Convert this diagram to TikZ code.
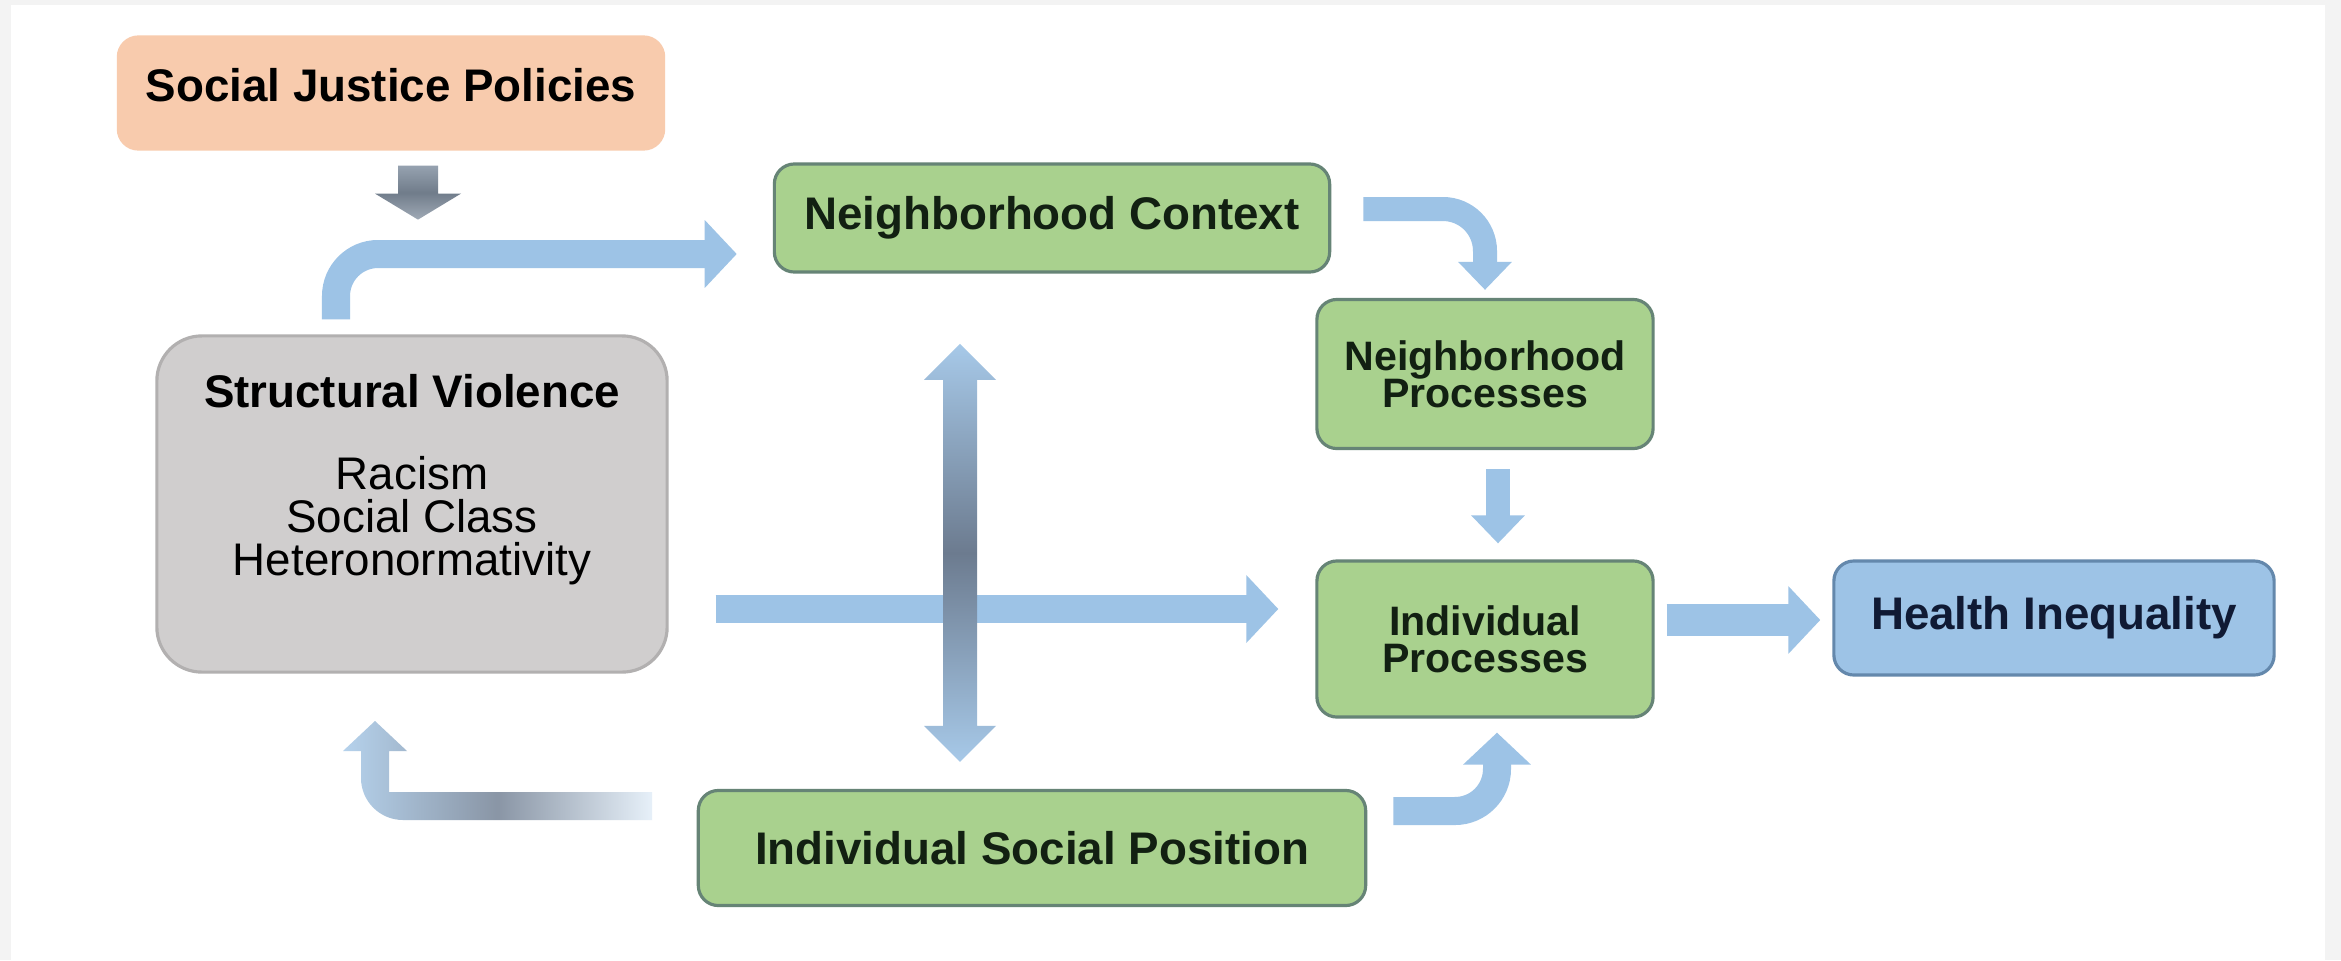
\documentclass[tikz,border=0pt]{standalone}
\usepackage{fontspec}
\setmainfont{Liberation Sans}
\usepackage{xcolor}
\usetikzlibrary{arrows.meta,calc,positioning}
\definecolor{arrblue}{RGB}{157,195,230}
\definecolor{slate}{RGB}{108,123,143}
\definecolor{pagegray}{RGB}{243,243,243}

\begin{document}
\begin{tikzpicture}[x=0.01cm,y=-0.01cm,
    box/.style={rounded corners=0.2cm, line width=0.9pt, align=center,
        font=\fontsize{13}{15}\selectfont\bfseries},
    greenbox/.style={box, fill=boxgreen, draw=edgegreen, text=textgreen},
    smallbox/.style={greenbox, minimum width=3.36cm,
        font=\fontsize{11.7}{10.6}\selectfont\bfseries},
    barrow/.style={draw=arrblue, line width=0.28cm, rounded corners=0.42cm,
        -{Triangle[width=0.66cm,length=0.32cm]}},
    sarrow/.style={barrow, line width=0.24cm,
        -{Triangle[width=0.52cm,length=0.28cm]}}]
    % Define colors for the boxes
    \definecolor{peach}{RGB}{248,203,173}
    \definecolor{boxgreen}{RGB}{169,209,142}
    \definecolor{edgegreen}{RGB}{102,132,118}
    \definecolor{textgreen}{RGB}{18,32,18}
    \definecolor{boxblue}{RGB}{157,195,230}
    \definecolor{edgeblue}{RGB}{100,136,172}
    \definecolor{boxgray}{RGB}{208,206,206}
    \definecolor{edgegray}{RGB}{178,176,176}

    % Page frame
    \fill[pagegray] (0,0) rectangle (2341,960);
    \fill[white] (11,5) rectangle (2325,960);

    % Boxes
    \node[box, fill=peach, draw=peach, minimum width=5.45cm, minimum height=1.12cm,
        text depth=0.16cm] (sjp) at (391,93) {Social Justice Policies};
    \node[box, fill=boxgray, draw=edgegray, rounded corners=0.45cm,
        minimum width=5.10cm, minimum height=3.36cm] (sv) at (412,504) {};
    \node[align=center, font=\fontsize{13}{12.3}\selectfont] (svtxt)
        at ($(sv.center)+(0,-24)$)
        {\textbf{Structural Violence}\\[0.38cm]Racism\\Social Class\\Heteronormativity};
    \node[greenbox, minimum width=5.55cm, minimum height=1.08cm] (nc) at (1052,218)
        {Neighborhood Context};
    \node[smallbox, minimum height=1.49cm] (np) at (1485,374) {Neighborhood\\Processes};
    \node[smallbox, minimum height=1.56cm] (ip) at (1485,639) {Individual\\Processes};
    \node[box, fill=boxblue, draw=edgeblue, text={rgb,255:red,16;green,26;blue,52},
        minimum width=4.40cm, minimum height=1.14cm] (hi) at (2054,618) {Health Inequality};
    \node[greenbox, minimum width=6.67cm, minimum height=1.15cm] (isp) at (1032,848)
        {Individual Social Position};

    % Grey arrow below the policies
    \coordinate (pol) at ($(sjp.south)+(27,0)$);
    \begin{scope}[shift={(pol)}]
        \shade[top color={rgb,255:red,150;green,162;blue,176},
            bottom color={rgb,255:red,160;green,170;blue,182},
            middle color={rgb,255:red,112;green,124;blue,138}]
            (-20,15) -- (20,15) -- (20,43) -- (43,43) -- (0,69) -- (-43,43) -- (-20,43) -- cycle;
    \end{scope}

    % Blue arrows
    \draw[barrow] ($(sv.north)+(-76,-15)$) |- ($(nc.west)+(-36,36)$);
    \draw[sarrow] ($(nc.east)+(32,-9)$) -| ($(np.north)+(0,-8)$);
    \draw[sarrow] ($(np.south)+(13,19)$) -- ($(ip.north)+(13,-16)$);
    \draw[barrow] ($(sv.east)+(47,105)$) -- ($(ip.west)+(-37,-30)$);
    \draw[barrow, line width=0.32cm] ($(ip.east)+(12,-19)$) -- ($(hi.west)+(-12,2)$);
    \draw[barrow] ($(isp.east)+(26,-37)$) -| ($(ip.south)+(12,14)$);

    % Shaded double arrow between context and position
    \coordinate (dbl) at ($(isp.north)+(-72,-236)$);
    \begin{scope}[shift={(dbl)}]
        \shade[top color=arrblue!90, bottom color=arrblue!90, middle color=slate]
            (0,-209) -- (36,-173) -- (17,-173) -- (17,173) -- (36,173) -- (0,209)
            -- (-36,173) -- (-17,173) -- (-17,-173) -- (-36,-173) -- cycle;
    \end{scope}

    % Shaded feedback arrow back to structural violence
    \coordinate (fbs) at ($(isp.west)+(-47,-42)$);
    \coordinate (fbt) at ($(sv.south)+(-37,49)$);
    \coordinate (fbc) at (fbt |- fbs);
    \begin{scope}[shift={(fbc)}]
        \shade[left color=arrblue!75, right color=arrblue!25, middle color=slate!80]
            (277,-14) -- (14,-14) -- (14,-55) -- (32,-55) -- (0,-85) -- (-32,-55)
            -- (-14,-55) -- (-14,-28) arc[start angle=180, end angle=90, radius=42]
            -- (277,14) -- cycle;
    \end{scope}
\end{tikzpicture}
\end{document}
